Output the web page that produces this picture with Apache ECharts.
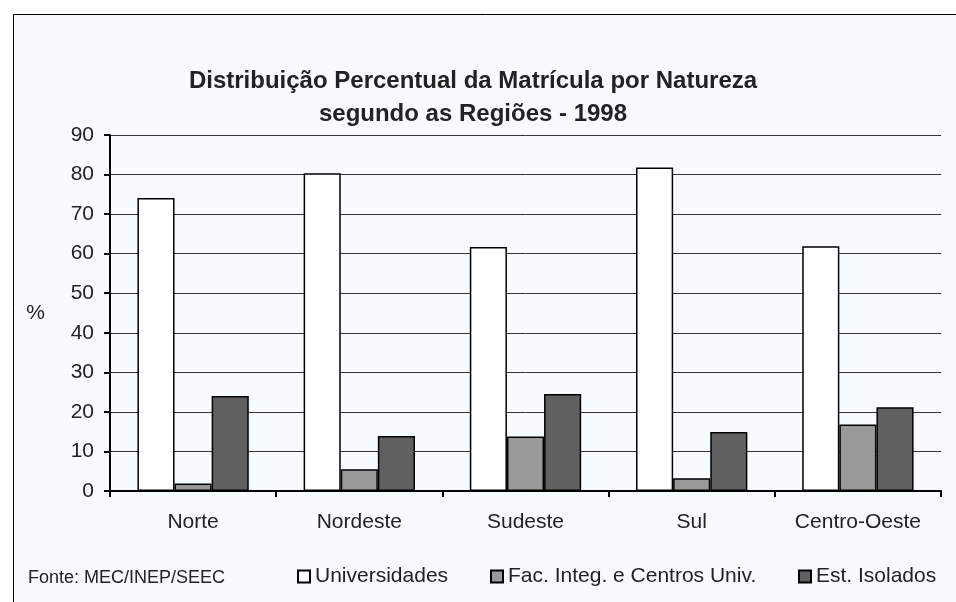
<!DOCTYPE html>
<html>
<head>
<meta charset="utf-8">
<script src="https://cdn.jsdelivr.net/npm/echarts@6/dist/echarts.min.js"></script>
<style>
  html, body { margin: 0; padding: 0; background: #fff; }
  #chart { width: 956px; height: 602px; }
</style>
</head>
<body>
<div id="chart"></div>
<script>
const regioes = ['Norte', 'Nordeste', 'Sudeste', 'Sul', 'Centro-Oeste'];
const universidades = [74.1, 80.3, 61.7, 81.8, 61.9];
const facIntegradas = [1.9, 5.5, 13.8, 3.2, 16.8];
const estIsolados = [24.0, 13.9, 24.5, 14.9, 21.2];
const nomes = ['Universidades', 'Fac. Integ. e Centros Univ.', 'Est. Isolados'];
const cores = ['#ffffff', '#999999', '#606060'];

const myChart = echarts.init(document.getElementById('chart'));
const fonte = 'Liberation Sans, Arial, sans-serif';

const barra = (i, data) => ({
  name: nomes[i],
  type: 'bar',
  data: data,
  barGap: '0%',
  barCategoryGap: '33%',
  itemStyle: { color: cores[i], borderColor: '#000', borderWidth: 1.5 }
});

// uma legenda por série, para posicionar cada uma como no original
const legenda = (i, x) => ({
  data: [nomes[i]],
  left: x,
  top: 566,
  padding: 0,
  itemWidth: 12,
  itemHeight: 12,
  icon: 'rect',
  itemStyle: { borderColor: '#000', borderWidth: 2 },
  textStyle: { fontFamily: fonte, fontSize: 21, color: '#222' }
});

const option = {
  backgroundColor: '#fff',
  animation: false,
  textStyle: { fontFamily: fonte },
  graphic: [
    {
      type: 'rect',
      shape: { x: 13.5, y: 14.5, width: 1000, height: 700 },
      style: { fill: '#f7fbfe', stroke: '#000', lineWidth: 1 },
      z: -10
    },
    {
      type: 'text',
      left: 28,
      top: 569,
      style: { text: 'Fonte: MEC/INEP/SEEC', font: '18px ' + fonte, fill: '#222' }
    }
  ],
  title: {
    text: 'Distribuição Percentual da Matrícula por Natureza\nsegundo as Regiões - 1998',
    left: 468,
    top: 60,
    textAlign: 'center',
    textStyle: { fontFamily: fonte, fontSize: 24, fontWeight: 'bold', color: '#222', lineHeight: 33 }
  },
  legend: [legenda(0, 297), legenda(1, 490), legenda(2, 798)],
  grid: { left: 110, right: 15, top: 135, bottom: 111 },
  xAxis: {
    type: 'category',
    data: regioes,
    axisLine: { lineStyle: { color: '#000', width: 2 } },
    axisTick: { show: true, length: 6, lineStyle: { color: '#000', width: 2 } },
    axisLabel: { fontSize: 21, color: '#222', margin: 21 }
  },
  yAxis: {
    type: 'value',
    min: 0,
    max: 90,
    interval: 10,
    name: '%',
    nameLocation: 'middle',
    nameRotate: 0,
    nameGap: 65,
    nameTextStyle: { fontSize: 21, color: '#222' },
    axisLine: { show: true, lineStyle: { color: '#000', width: 2 } },
    axisTick: { show: true, length: 6, lineStyle: { color: '#000', width: 2 } },
    axisLabel: { fontSize: 21, color: '#222', margin: 16 },
    splitLine: { lineStyle: { color: '#333', width: 1 } }
  },
  series: [
    barra(0, universidades),
    barra(1, facIntegradas),
    barra(2, estIsolados)
  ]
};

myChart.setOption(option);
</script>
</body>
</html>
